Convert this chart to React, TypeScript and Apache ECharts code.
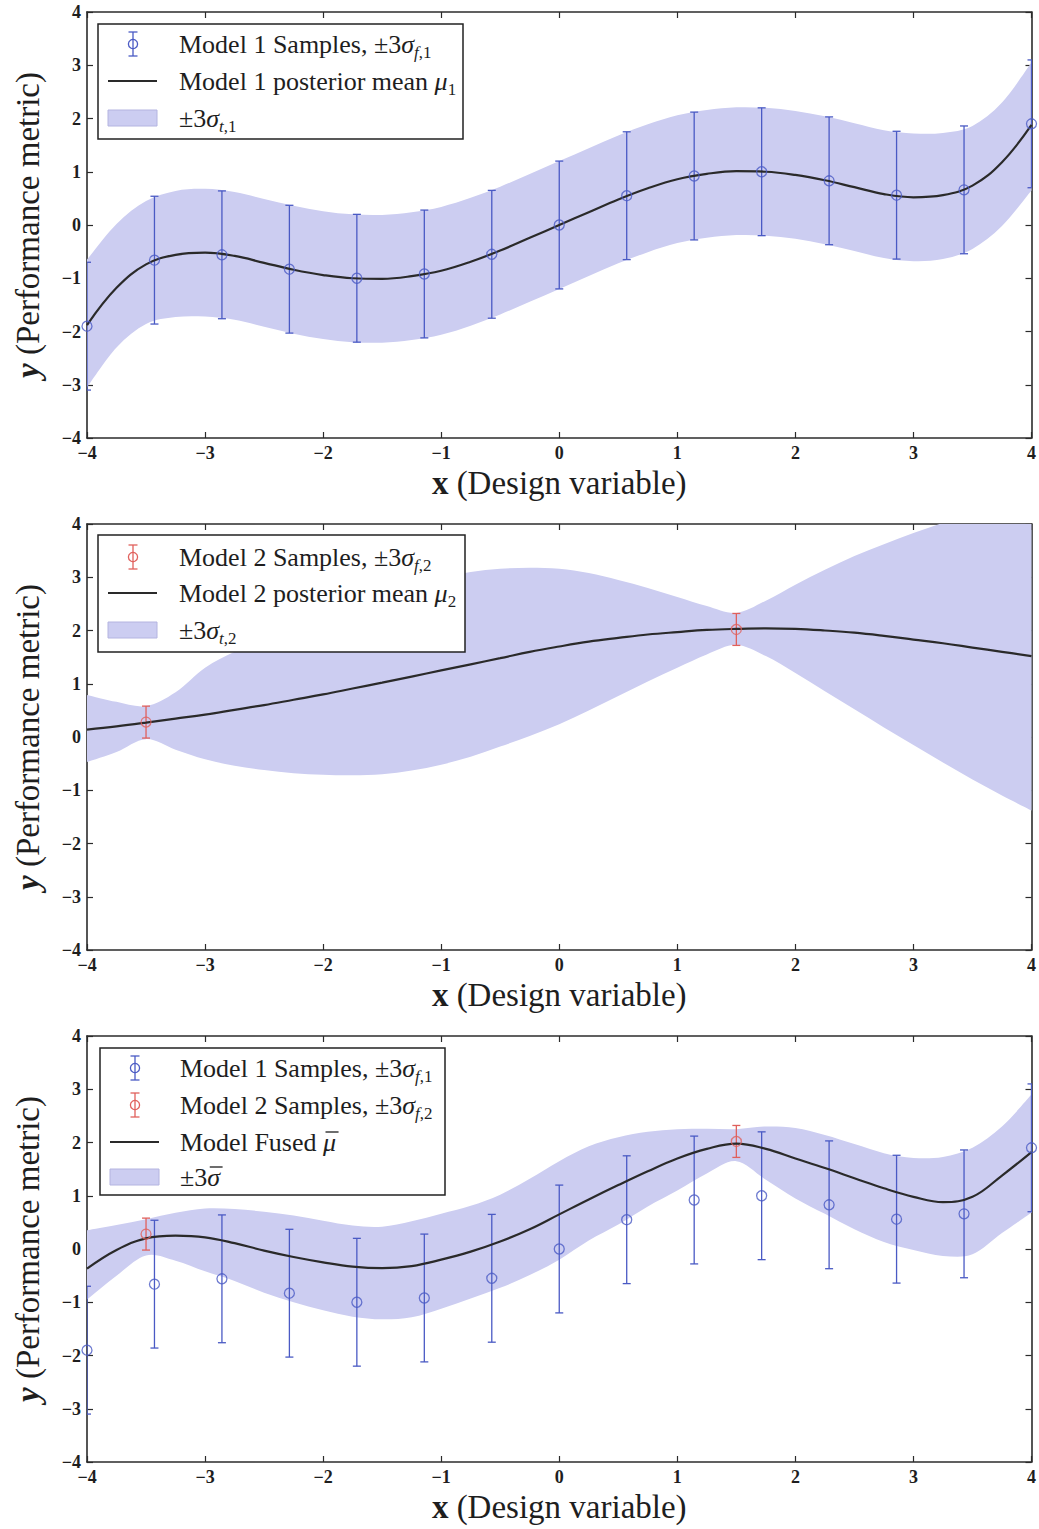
import React, { useEffect, useRef } from 'react';
import * as echarts from 'echarts';

// ---------- data ----------
const XS = [-4, -3.75, -3.5, -3.25, -3, -2.75, -2.5, -2.25, -2, -1.75, -1.5, -1.25, -1, -0.75, -0.5, -0.25, 0,
  0.25, 0.5, 0.75, 1, 1.25, 1.5, 1.75, 2, 2.25, 2.5, 2.75, 3, 3.25, 3.5, 3.75, 4];

// Model 1 samples (x, y, ±3σ_f,1)
const M1_X = [-4, -3.4286, -2.8571, -2.2857, -1.7143, -1.1429, -0.5714, 0, 0.5714, 1.1429, 1.7143, 2.2857, 2.8571, 3.4286, 4];
const M1_Y = [-1.9, -0.66, -0.56, -0.83, -1.0, -0.92, -0.55, 0, 0.55, 0.92, 1.0, 0.83, 0.56, 0.66, 1.9];
const M1_ERR = [1.2, 1.2, 1.2, 1.2, 1.2, 1.2, 1.2, 1.2, 1.2, 1.2, 1.2, 1.2, 1.2, 1.2, 1.2];

// Model 2 samples
const M2_X = [-3.5, 1.5];
const M2_Y = [0.28, 2.02];
const M2_ERR = [0.3, 0.3];

// Panel 1: posterior mean and band of model 1
const MU1 = [-1.88, -1.18, -0.74, -0.56, -0.52, -0.58, -0.71, -0.84, -0.94, -1.0, -1.01, -0.96, -0.86, -0.69, -0.48, -0.24, 0,
  0.24, 0.48, 0.69, 0.86, 0.96, 1.01, 1.0, 0.94, 0.84, 0.71, 0.58, 0.52, 0.56, 0.74, 1.18, 1.88];
const UP1 = [-0.65, 0.02, 0.45, 0.64, 0.68, 0.62, 0.49, 0.36, 0.26, 0.2, 0.19, 0.24, 0.34, 0.51, 0.72, 0.96, 1.2,
  1.44, 1.68, 1.89, 2.06, 2.16, 2.21, 2.2, 2.14, 2.04, 1.91, 1.78, 1.72, 1.73, 1.86, 2.3, 3.05];
const LO1 = [-3.05, -2.3, -1.86, -1.73, -1.72, -1.78, -1.91, -2.04, -2.14, -2.2, -2.21, -2.16, -2.06, -1.89, -1.68, -1.44, -1.2,
  -0.96, -0.72, -0.51, -0.34, -0.24, -0.19, -0.2, -0.26, -0.36, -0.49, -0.62, -0.68, -0.64, -0.45, -0.02, 0.65];

// Panel 2: posterior mean and band of model 2
const MU2 = [0.14, 0.2, 0.27, 0.345, 0.42, 0.51, 0.6, 0.7, 0.8, 0.91, 1.02, 1.135, 1.25, 1.365, 1.48, 1.6, 1.7,
  1.79, 1.86, 1.925, 1.97, 2.01, 2.03, 2.04, 2.03, 2.0, 1.96, 1.9, 1.83, 1.76, 1.68, 1.6, 1.52];
const UP2 = [0.79, 0.66, 0.58, 0.84, 1.3, 1.6, 1.85, 2.1, 2.33, 2.54, 2.72, 2.88, 3.0, 3.1, 3.16, 3.18, 3.16,
  3.08, 2.95, 2.8, 2.63, 2.46, 2.33, 2.56, 2.86, 3.14, 3.4, 3.62, 3.83, 4.02, 4.17, 4.3, 4.42];
const LO2 = [-0.47, -0.28, -0.04, -0.24, -0.42, -0.54, -0.62, -0.68, -0.71, -0.72, -0.7, -0.63, -0.52, -0.37, -0.18, 0.02, 0.24,
  0.5, 0.77, 1.04, 1.3, 1.55, 1.73, 1.52, 1.2, 0.86, 0.52, 0.18, -0.15, -0.48, -0.8, -1.1, -1.38];

// Panel 3: fused mean and band
const MU3 = [-0.37, -0.02, 0.2, 0.25, 0.22, 0.11, -0.03, -0.15, -0.25, -0.33, -0.36, -0.32, -0.2, -0.05, 0.14, 0.37, 0.65,
  0.93, 1.2, 1.46, 1.7, 1.88, 1.98, 1.88, 1.7, 1.52, 1.33, 1.14, 0.98, 0.88, 0.98, 1.38, 1.82];
const UP3 = [0.35, 0.45, 0.56, 0.68, 0.76, 0.75, 0.7, 0.63, 0.53, 0.44, 0.42, 0.52, 0.66, 0.81, 1.02, 1.32, 1.65,
  1.93, 2.1, 2.2, 2.25, 2.26, 2.25, 2.3, 2.27, 2.14, 1.97, 1.8, 1.71, 1.73, 1.9, 2.3, 2.9];
const LO3 = [-0.95, -0.5, -0.12, -0.22, -0.42, -0.6, -0.82, -1.0, -1.15, -1.27, -1.32, -1.28, -1.12, -0.93, -0.73, -0.49, -0.2,
  0.16, 0.46, 0.8, 1.1, 1.42, 1.65, 1.3, 0.95, 0.66, 0.37, 0.13, -0.02, -0.13, -0.1, 0.3, 0.68];

const LEGEND_1 = ['Model 1 Samples, ±3{s|σ}{sub|f}{sr|,1}', 'Model 1 posterior mean {s|μ}{sr|1}', '±3{s|σ}{sub|t}{sr|,1}'];
const LEGEND_2 = ['Model 2 Samples, ±3{s|σ}{sub|f}{sr|,2}', 'Model 2 posterior mean {s|μ}{sr|2}', '±3{s|σ}{sub|t}{sr|,2}'];
const LEGEND_3 = ['Model 1 Samples, ±3{s|σ}{sub|f}{sr|,1}', 'Model 2 Samples, ±3{s|σ}{sub|f}{sr|,2}', 'Model Fused {s|μ}', '±3{s|σ}'];
// plain prefix before an over-barred symbol, and the symbol itself
const BAR_3 = [null, null, ['Model Fused ', 'μ'], ['±3', 'σ']];
const X_NAME = '{b|x} (Design variable)';
const Y_NAME = '{b|y} (Performance metric)';

// ---------- styles / layout ----------
const FONT = "'Liberation Serif', 'Times New Roman', serif";
const FS = 26;
const AX = '#2b2b2b';
const BLUE = '#4a5ac4';
const RED = '#e0605c';
const BAND = '#cccdf1';
const CURVE = '#2a2a2a';
const TXT = '#1e1e1e';
const GRID_LEFT = 87;
const GRID_W = 947;
const GRID_H = 426;
const GRID_TOPS = [12, 524, 1036];

const fmt = (v: number) => (v < 0 ? '\u2212' + Math.abs(v) : String(v));

function pairs(xs: number[], ys: number[]) {
  return xs.map((x, i) => [x, ys[i]]);
}

// Catmull-Rom -> cubic Bezier path segments through pixel points (first point excluded from output)
function smoothSegs(p: number[][]) {
  let d = '';
  const n = p.length;
  for (let i = 0; i < n - 1; i++) {
    const p0 = p[Math.max(0, i - 1)];
    const p1 = p[i];
    const p2 = p[i + 1];
    const p3 = p[Math.min(n - 1, i + 2)];
    const c1x = p1[0] + (p2[0] - p0[0]) / 6;
    const c1y = p1[1] + (p2[1] - p0[1]) / 6;
    const c2x = p2[0] - (p3[0] - p1[0]) / 6;
    const c2y = p2[1] - (p3[1] - p1[1]) / 6;
    d += ` C${c1x.toFixed(2)},${c1y.toFixed(2)} ${c2x.toFixed(2)},${c2y.toFixed(2)} ${p2[0].toFixed(2)},${p2[1].toFixed(2)}`;
  }
  return d;
}

function bandSeries(gi: number, lo: number[], up: number[]) {
  return {
    type: 'custom',
    xAxisIndex: gi * 2,
    yAxisIndex: gi * 2,
    clip: true,
    silent: true,
    z: 1,
    data: [[XS[0], lo[0]]],
    encode: { x: 0, y: 1 },
    renderItem: (_p: any, api: any) => {
      const U = XS.map((x, i) => api.coord([x, up[i]]));
      const L = XS.map((x, i) => api.coord([x, lo[i]])).reverse();
      const d = `M${U[0][0]},${U[0][1]}` + smoothSegs(U) + ` L${L[0][0]},${L[0][1]}` + smoothSegs(L) + ' Z';
      return { type: 'path', shape: { pathData: d }, style: { fill: BAND, stroke: 'none' } };
    },
  };
}

function errSeries(gi: number, xs: number[], ys: number[], es: number[], color: string) {
  return {
    type: 'custom',
    xAxisIndex: gi * 2,
    yAxisIndex: gi * 2,
    clip: true,
    silent: true,
    z: 4,
    data: xs.map((x, i) => [x, ys[i], es[i]]),
    encode: { x: 0, y: 1 },
    renderItem: (_p: any, api: any) => {
      const x = api.value(0);
      const y = api.value(1);
      const e = api.value(2);
      const a = api.coord([x, y + e]);
      const b = api.coord([x, y - e]);
      const c = 4;
      const st = { stroke: color, lineWidth: 1.3 };
      return {
        type: 'group',
        children: [
          { type: 'line', shape: { x1: a[0], y1: a[1], x2: b[0], y2: b[1] }, style: st },
          { type: 'line', shape: { x1: a[0] - c, y1: a[1], x2: a[0] + c, y2: a[1] }, style: st },
          { type: 'line', shape: { x1: b[0] - c, y1: b[1], x2: b[0] + c, y2: b[1] }, style: st },
        ],
      };
    },
  };
}

function pointSeries(gi: number, xs: number[], ys: number[], color: string) {
  return {
    type: 'scatter',
    xAxisIndex: gi * 2,
    yAxisIndex: gi * 2,
    silent: true,
    z: 6,
    symbol: 'circle',
    symbolSize: 10,
    itemStyle: { color: 'rgba(0,0,0,0)', borderColor: color, borderWidth: 1.3 },
    data: pairs(xs, ys),
  };
}

function meanSeries(gi: number, mu: number[]) {
  return {
    type: 'line',
    xAxisIndex: gi * 2,
    yAxisIndex: gi * 2,
    smooth: 0.4,
    symbol: 'none',
    silent: true,
    z: 5,
    lineStyle: { color: CURVE, width: 2.2 },
    data: pairs(XS, mu),
  };
}

const RICH = {
  s: { fontFamily: FONT, fontSize: FS, fontStyle: 'italic', lineHeight: 34, fill: TXT },
  sub: { fontFamily: FONT, fontSize: 17, fontStyle: 'italic', lineHeight: 17, verticalAlign: 'bottom', fill: TXT },
  sr: { fontFamily: FONT, fontSize: 17, lineHeight: 17, verticalAlign: 'bottom', fill: TXT },
};

type Entry = { kind: 'err' | 'line' | 'patch'; color?: string; text: string; bar?: string[] | null };

function measure(text: string, italic: boolean) {
  const cv = document.createElement('canvas');
  const ctx = cv.getContext('2d');
  if (!ctx) return text.length * FS * 0.5;
  ctx.font = `${italic ? 'italic ' : ''}${FS}px ${FONT}`;
  return ctx.measureText(text).width;
}

function legend(box: { x: number; y: number; w: number; h: number }, rows: number[], iconX: number, lineX0: number, textX: number, entries: Entry[]) {
  const els: any[] = [
    { type: 'rect', z: 100, silent: true, shape: { x: box.x, y: box.y, width: box.w, height: box.h }, style: { fill: '#fff', stroke: '#222', lineWidth: 1.5 } },
  ];
  entries.forEach((en, i) => {
    const y = rows[i];
    if (en.kind === 'err') {
      const st = { stroke: en.color, lineWidth: 1.3 };
      els.push({ type: 'line', z: 101, silent: true, shape: { x1: iconX, y1: y - 12, x2: iconX, y2: y + 12 }, style: st });
      els.push({ type: 'line', z: 101, silent: true, shape: { x1: iconX - 4.5, y1: y - 12, x2: iconX + 4.5, y2: y - 12 }, style: st });
      els.push({ type: 'line', z: 101, silent: true, shape: { x1: iconX - 4.5, y1: y + 12, x2: iconX + 4.5, y2: y + 12 }, style: st });
      els.push({ type: 'circle', z: 101, silent: true, shape: { cx: iconX, cy: y, r: 4.6 }, style: { fill: 'none', stroke: en.color, lineWidth: 1.3 } });
    } else if (en.kind === 'line') {
      els.push({ type: 'line', z: 101, silent: true, shape: { x1: lineX0, y1: y, x2: lineX0 + 49, y2: y }, style: { stroke: CURVE, lineWidth: 2.2 } });
    } else {
      els.push({ type: 'rect', z: 101, silent: true, shape: { x: lineX0, y: y - 8, width: 49, height: 16 }, style: { fill: BAND, stroke: '#b4b4e0', lineWidth: 1 } });
    }
    els.push({
      type: 'text', z: 101, silent: true, x: textX, y,
      style: { text: en.text, fontFamily: FONT, fontSize: FS, lineHeight: 34, fill: TXT, align: 'left', verticalAlign: 'middle', rich: RICH },
    });
    if (en.bar) {
      const x0 = textX + measure(en.bar[0], false);
      const w = measure(en.bar[1], true);
      els.push({ type: 'line', z: 102, silent: true, shape: { x1: x0 + 2.5, y1: y - 10, x2: x0 + w + 2.5, y2: y - 10 }, style: { stroke: TXT, lineWidth: 1.3 } });
    }
  });
  return els;
}

export default function App() {
  const ref = useRef<HTMLDivElement>(null);
  useEffect(() => {
    if (!ref.current) return;
    const chart = echarts.init(ref.current, undefined, { renderer: 'svg' });

    const grids = GRID_TOPS.map((t) => ({ left: GRID_LEFT, top: t, width: GRID_W, height: GRID_H, containLabel: false }));
    const common = {
      type: 'value', min: -4, max: 4, interval: 1,
      splitLine: { show: false },
      axisLine: { show: true, onZero: false, lineStyle: { color: AX, width: 1.6 } },
      axisTick: { show: true, inside: true, length: 6, lineStyle: { color: AX, width: 1.2 } },
    };
    const labelStyle = { show: true, fontFamily: FONT, fontWeight: 'bold', fontSize: 18, color: TXT, margin: 6, formatter: fmt, showMinLabel: true, showMaxLabel: true };
    const xAxis: any[] = [];
    const yAxis: any[] = [];
    GRID_TOPS.forEach((_t, gi) => {
      xAxis.push({
        ...common, gridIndex: gi, position: 'bottom', axisLabel: labelStyle,
        name: X_NAME, nameLocation: 'middle', nameGap: 28,
        nameTextStyle: { fontFamily: FONT, fontSize: 33, color: TXT, rich: { b: { fontFamily: FONT, fontSize: 33, fontWeight: 'bold', color: TXT } } },
      });
      xAxis.push({ ...common, gridIndex: gi, position: 'top', axisLabel: { show: false } });
      yAxis.push({
        ...common, gridIndex: gi, position: 'left', axisLabel: labelStyle,
        name: Y_NAME, nameLocation: 'middle', nameGap: 43, nameRotate: 90,
        nameTextStyle: { fontFamily: FONT, fontSize: 33, color: TXT, rich: { b: { fontFamily: FONT, fontSize: 33, fontWeight: 'bold', fontStyle: 'italic', color: TXT } } },
      });
      yAxis.push({ ...common, gridIndex: gi, position: 'right', axisLabel: { show: false } });
    });

    const series: any[] = [
      bandSeries(0, LO1, UP1),
      errSeries(0, M1_X, M1_Y, M1_ERR, BLUE),
      meanSeries(0, MU1),
      pointSeries(0, M1_X, M1_Y, BLUE),

      bandSeries(1, LO2, UP2),
      errSeries(1, M2_X, M2_Y, M2_ERR, RED),
      meanSeries(1, MU2),
      pointSeries(1, M2_X, M2_Y, RED),

      bandSeries(2, LO3, UP3),
      errSeries(2, M1_X, M1_Y, M1_ERR, BLUE),
      errSeries(2, M2_X, M2_Y, M2_ERR, RED),
      meanSeries(2, MU3),
      pointSeries(2, M1_X, M1_Y, BLUE),
      pointSeries(2, M2_X, M2_Y, RED),
    ];

    const graphic = [
      ...legend({ x: 98, y: 24, w: 365, h: 115 }, [44, 81, 118], 133, 108, 179, [
        { kind: 'err', color: BLUE, text: LEGEND_1[0] },
        { kind: 'line', text: LEGEND_1[1] },
        { kind: 'patch', text: LEGEND_1[2] },
      ]),
      ...legend({ x: 98, y: 535, w: 367, h: 117 }, [557, 593, 630], 133, 108, 179, [
        { kind: 'err', color: RED, text: LEGEND_2[0] },
        { kind: 'line', text: LEGEND_2[1] },
        { kind: 'patch', text: LEGEND_2[2] },
      ]),
      ...legend({ x: 100, y: 1048, w: 345, h: 147 }, [1068, 1105, 1142, 1177], 135, 110, 180, [
        { kind: 'err', color: BLUE, text: LEGEND_3[0], bar: BAR_3[0] },
        { kind: 'err', color: RED, text: LEGEND_3[1], bar: BAR_3[1] },
        { kind: 'line', text: LEGEND_3[2], bar: BAR_3[2] },
        { kind: 'patch', text: LEGEND_3[3], bar: BAR_3[3] },
      ]),
    ];

    chart.setOption({
      animation: false,
      backgroundColor: '#fff',
      grid: grids,
      xAxis,
      yAxis,
      series,
      graphic: { elements: graphic },
    });
    return () => chart.dispose();
  }, []);

  return <div ref={ref} style={{ position: 'absolute', left: 0, top: 0, width: 1039, height: 1529 }} />;
}
